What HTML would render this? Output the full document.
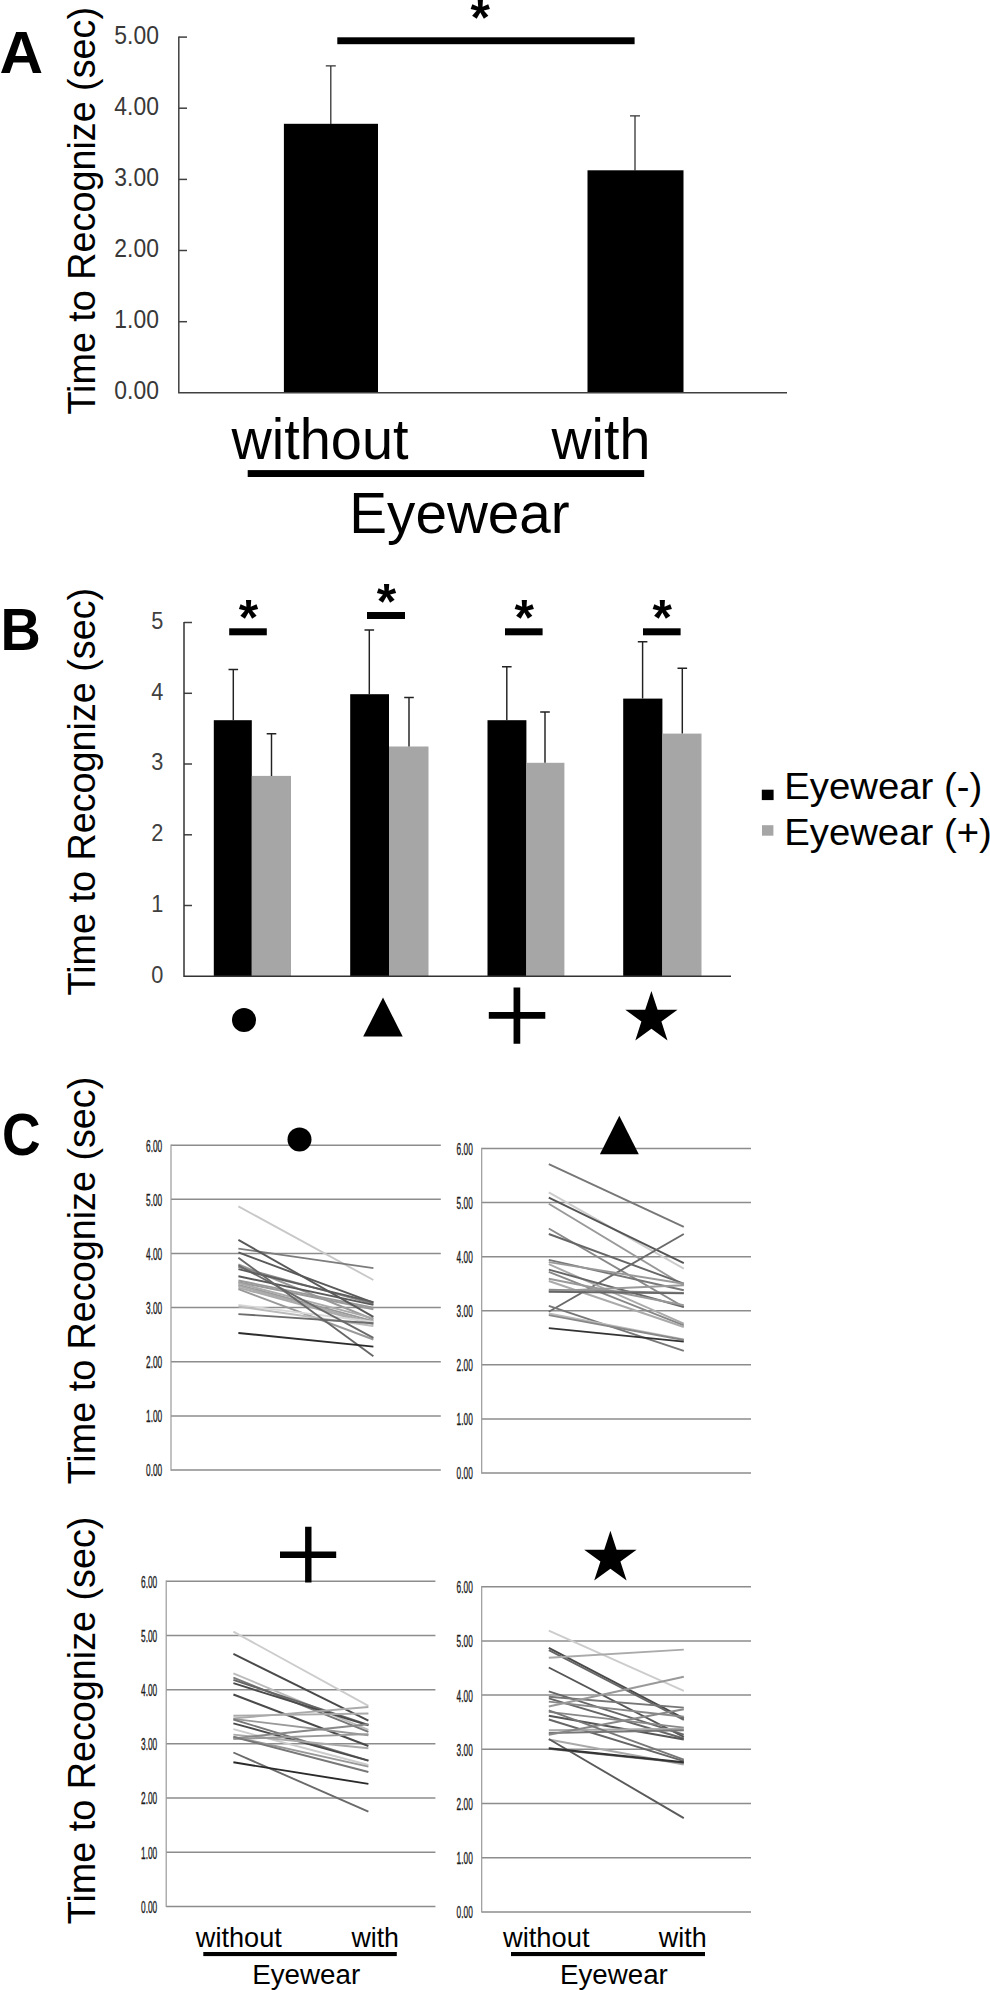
<!DOCTYPE html>
<html lang="en"><head><meta charset="utf-8"><title>Time to Recognize - Eyewear figure</title>
<style>
html,body{margin:0;padding:0;background:#fff;}
body{width:990px;height:1990px;overflow:hidden;}
svg{display:block;font-family:"Liberation Sans", Arial, sans-serif;}
</style></head><body>
<svg width="990" height="1990" viewBox="0 0 990 1990">
<rect width="990" height="1990" fill="#fff"/>
<g id="panelA">
<text x="-0.4" y="73.0" font-size="58.8" textLength="43.6" lengthAdjust="spacingAndGlyphs" font-weight="bold" fill="#000">A</text>
<text transform="translate(95.2,414.6) rotate(-90)" font-size="38.3" textLength="407.6" lengthAdjust="spacingAndGlyphs" fill="#000">Time to Recognize (sec)</text>
<text x="114.3" y="399.2" font-size="26.6" textLength="44.6" lengthAdjust="spacingAndGlyphs" fill="#383838">0.00</text>
<path d="M178.8 321.7H187" stroke="#404040" stroke-width="1.5"/>
<text x="114.3" y="328.1" font-size="26.6" textLength="44.6" lengthAdjust="spacingAndGlyphs" fill="#383838">1.00</text>
<path d="M178.8 250.5H187" stroke="#404040" stroke-width="1.5"/>
<text x="114.3" y="256.9" font-size="26.6" textLength="44.6" lengthAdjust="spacingAndGlyphs" fill="#383838">2.00</text>
<path d="M178.8 179.4H187" stroke="#404040" stroke-width="1.5"/>
<text x="114.3" y="185.8" font-size="26.6" textLength="44.6" lengthAdjust="spacingAndGlyphs" fill="#383838">3.00</text>
<path d="M178.8 108.2H187" stroke="#404040" stroke-width="1.5"/>
<text x="114.3" y="114.6" font-size="26.6" textLength="44.6" lengthAdjust="spacingAndGlyphs" fill="#383838">4.00</text>
<path d="M178.8 37.1H187" stroke="#404040" stroke-width="1.5"/>
<text x="114.3" y="43.5" font-size="26.6" textLength="44.6" lengthAdjust="spacingAndGlyphs" fill="#383838">5.00</text>
<rect x="283.9" y="123.8" width="94.1" height="269.0" fill="#000"/>
<rect x="587.5" y="170.3" width="96" height="222.5" fill="#000"/>
<path d="M178.8 36.4V392.8H787" fill="none" stroke="#404040" stroke-width="1.5"/>
<path d="M330.8 124V65.8M325.8 65.8H335.8" stroke="#333" stroke-width="1.3" fill="none"/>
<path d="M635 171V115.8M630 115.8H640" stroke="#333" stroke-width="1.3" fill="none"/>
<rect x="337.3" y="37.3" width="297.3" height="6.9" fill="#000"/>
<text x="480.2" y="35.4" font-size="50" font-weight="bold" text-anchor="middle" fill="#000">*</text>
<text x="231.5" y="459" font-size="57" textLength="177" lengthAdjust="spacingAndGlyphs" fill="#000">without</text>
<text x="551.5" y="459" font-size="57" textLength="98.8" lengthAdjust="spacingAndGlyphs" fill="#000">with</text>
<rect x="247.7" y="470.1" width="396.5" height="6.9" fill="#000"/>
<text x="349.3" y="533" font-size="58" textLength="220.4" lengthAdjust="spacingAndGlyphs" fill="#000">Eyewear</text>
</g>
<g id="panelB">
<text x="0.6" y="649.7" font-size="59.2" textLength="40.3" lengthAdjust="spacingAndGlyphs" font-weight="bold" fill="#000">B</text>
<text transform="translate(95.2,995.5) rotate(-90)" font-size="38.3" textLength="407.6" lengthAdjust="spacingAndGlyphs" fill="#000">Time to Recognize (sec)</text>
<text x="151.2" y="982.7" font-size="23.6" textLength="12.1" lengthAdjust="spacingAndGlyphs" fill="#404040">0</text>
<path d="M184.0 905.5H192" stroke="#404040" stroke-width="1.5"/>
<text x="151.2" y="911.9" font-size="23.6" textLength="12.1" lengthAdjust="spacingAndGlyphs" fill="#404040">1</text>
<path d="M184.0 834.8H192" stroke="#404040" stroke-width="1.5"/>
<text x="151.2" y="841.2" font-size="23.6" textLength="12.1" lengthAdjust="spacingAndGlyphs" fill="#404040">2</text>
<path d="M184.0 764.0H192" stroke="#404040" stroke-width="1.5"/>
<text x="151.2" y="770.4" font-size="23.6" textLength="12.1" lengthAdjust="spacingAndGlyphs" fill="#404040">3</text>
<path d="M184.0 693.3H192" stroke="#404040" stroke-width="1.5"/>
<text x="151.2" y="699.7" font-size="23.6" textLength="12.1" lengthAdjust="spacingAndGlyphs" fill="#404040">4</text>
<path d="M184.0 622.5H192" stroke="#404040" stroke-width="1.5"/>
<text x="151.2" y="628.9" font-size="23.6" textLength="12.1" lengthAdjust="spacingAndGlyphs" fill="#404040">5</text>
<rect x="213.8" y="720.2" width="38.0" height="256.1" fill="#000"/>
<rect x="251.8" y="775.9" width="39.2" height="200.4" fill="#a6a6a6"/>
<path d="M233.3 720.2V669.5M228.5 669.5H238.10000000000002M271.5 775.9V733.7M266.7 733.7H276.3" stroke="#222" stroke-width="1.45" fill="none"/>
<rect x="229.2" y="628.3" width="37.6" height="7" fill="#000"/>
<text x="248.5" y="635.1" font-size="50" font-weight="bold" text-anchor="middle" fill="#000">*</text>
<rect x="350.2" y="694.2" width="38.8" height="282.1" fill="#000"/>
<rect x="389.0" y="746.5" width="39.5" height="229.8" fill="#a6a6a6"/>
<path d="M369.3 694.2V630.0M364.5 630.0H374.1M409.0 746.5V697.5M404.2 697.5H413.8" stroke="#222" stroke-width="1.45" fill="none"/>
<rect x="367.0" y="612.0" width="38.0" height="7" fill="#000"/>
<text x="386.5" y="618.8" font-size="50" font-weight="bold" text-anchor="middle" fill="#000">*</text>
<rect x="487.5" y="720.2" width="38.9" height="256.1" fill="#000"/>
<rect x="526.4" y="762.8" width="38.0" height="213.5" fill="#a6a6a6"/>
<path d="M506.8 720.2V666.7M502.0 666.7H511.6M545.0 762.8V712.0M540.2 712.0H549.8" stroke="#222" stroke-width="1.45" fill="none"/>
<rect x="505.0" y="628.3" width="37.6" height="7" fill="#000"/>
<text x="524.3" y="635.1" font-size="50" font-weight="bold" text-anchor="middle" fill="#000">*</text>
<rect x="623.2" y="698.6" width="39.2" height="277.7" fill="#000"/>
<rect x="662.4" y="733.6" width="39.1" height="242.7" fill="#a6a6a6"/>
<path d="M642.6 698.6V641.7M637.8000000000001 641.7H647.4M682.3 733.6V668.2M677.5 668.2H687.0999999999999" stroke="#222" stroke-width="1.45" fill="none"/>
<rect x="643.0" y="628.3" width="37.6" height="7" fill="#000"/>
<text x="662.3" y="635.1" font-size="50" font-weight="bold" text-anchor="middle" fill="#000">*</text>
<path d="M184.0 621.9V976.3H731" fill="none" stroke="#333" stroke-width="1.5"/>
<circle cx="244" cy="1020" r="12" fill="#000"/>
<path d="M383 997.5L402.7 1036.5H363.2Z" fill="#000"/>
<path d="M488.8 1015.3H545.3M516.9 987.5V1043.7" stroke="#000" stroke-width="6.7" fill="none"/>
<path d="M651.4 990.9L657.6 1009.8L677.5 1009.8L661.4 1021.5L667.5 1040.5L651.4 1028.8L635.3 1040.5L641.4 1021.5L625.3 1009.8L645.2 1009.8Z" fill="#000"/>
<rect x="761.8" y="789.7" width="11.8" height="10.4" fill="#000"/>
<rect x="762" y="825.2" width="11.4" height="10.5" fill="#a6a6a6"/>
<text x="784.2" y="799.2" font-size="37.8" textLength="198" lengthAdjust="spacingAndGlyphs" fill="#000">Eyewear (-)</text>
<text x="784.2" y="844.6" font-size="37.8" textLength="207.6" lengthAdjust="spacingAndGlyphs" fill="#000">Eyewear (+)</text>
</g>
<g id="panelC">
<text x="1.9" y="1155.1" font-size="59" textLength="38.6" lengthAdjust="spacingAndGlyphs" font-weight="bold" fill="#000">C</text>
<text transform="translate(95.4,1484.3) rotate(-90)" font-size="38.3" textLength="407.6" lengthAdjust="spacingAndGlyphs" fill="#000">Time to Recognize (sec)</text>
<text transform="translate(95.4,1924.2) rotate(-90)" font-size="38.3" textLength="407.6" lengthAdjust="spacingAndGlyphs" fill="#000">Time to Recognize (sec)</text>
<path d="M171.0 1470.0H440.8" stroke="#8c8c8c" stroke-width="1.5"/>
<text x="146" y="1476.4" font-size="16.2" textLength="16.2" lengthAdjust="spacingAndGlyphs" fill="#1c1c1c" stroke="#1c1c1c" stroke-width="0.35">0.00</text>
<path d="M171.0 1415.9H440.8" stroke="#8c8c8c" stroke-width="1.5"/>
<text x="146" y="1422.3" font-size="16.2" textLength="16.2" lengthAdjust="spacingAndGlyphs" fill="#1c1c1c" stroke="#1c1c1c" stroke-width="0.35">1.00</text>
<path d="M171.0 1361.7H440.8" stroke="#8c8c8c" stroke-width="1.5"/>
<text x="146" y="1368.1" font-size="16.2" textLength="16.2" lengthAdjust="spacingAndGlyphs" fill="#1c1c1c" stroke="#1c1c1c" stroke-width="0.35">2.00</text>
<path d="M171.0 1307.6H440.8" stroke="#8c8c8c" stroke-width="1.5"/>
<text x="146" y="1314.0" font-size="16.2" textLength="16.2" lengthAdjust="spacingAndGlyphs" fill="#1c1c1c" stroke="#1c1c1c" stroke-width="0.35">3.00</text>
<path d="M171.0 1253.5H440.8" stroke="#8c8c8c" stroke-width="1.5"/>
<text x="146" y="1259.9" font-size="16.2" textLength="16.2" lengthAdjust="spacingAndGlyphs" fill="#1c1c1c" stroke="#1c1c1c" stroke-width="0.35">4.00</text>
<path d="M171.0 1199.3H440.8" stroke="#8c8c8c" stroke-width="1.5"/>
<text x="146" y="1205.7" font-size="16.2" textLength="16.2" lengthAdjust="spacingAndGlyphs" fill="#1c1c1c" stroke="#1c1c1c" stroke-width="0.35">5.00</text>
<path d="M171.0 1145.2H440.8" stroke="#8c8c8c" stroke-width="1.5"/>
<text x="146" y="1151.6" font-size="16.2" textLength="16.2" lengthAdjust="spacingAndGlyphs" fill="#1c1c1c" stroke="#1c1c1c" stroke-width="0.35">6.00</text>
<path d="M171.0 1144.5V1470.7" stroke="#9a9a9a" stroke-width="1.2"/>
<path d="M238.4 1206.4L373.4 1280.0" stroke="#c8c8c8" stroke-width="1.9"/>
<path d="M238.4 1248.6L373.4 1268.1" stroke="#7c7c7c" stroke-width="1.9"/>
<path d="M238.4 1264.3L373.4 1319.5" stroke="#999" stroke-width="1.9"/>
<path d="M238.4 1267.0L373.4 1303.8" stroke="#888" stroke-width="1.9"/>
<path d="M238.4 1280.5L373.4 1307.6" stroke="#999" stroke-width="1.9"/>
<path d="M238.4 1282.2L373.4 1309.2" stroke="#999" stroke-width="1.9"/>
<path d="M238.4 1283.2L373.4 1318.4" stroke="#aaa" stroke-width="1.9"/>
<path d="M238.4 1284.9L373.4 1321.1" stroke="#999" stroke-width="1.9"/>
<path d="M238.4 1285.9L373.4 1322.8" stroke="#aaa" stroke-width="1.9"/>
<path d="M238.4 1287.6L373.4 1324.4" stroke="#aaa" stroke-width="1.9"/>
<path d="M238.4 1289.2L373.4 1339.5" stroke="#999" stroke-width="1.9"/>
<path d="M238.4 1304.9L373.4 1321.7" stroke="#d8d8d8" stroke-width="1.9"/>
<path d="M238.4 1306.5L373.4 1326.0" stroke="#bbb" stroke-width="1.9"/>
<path d="M238.4 1314.1L373.4 1323.3" stroke="#6c6c6c" stroke-width="1.9"/>
<path d="M238.4 1265.4L373.4 1337.9" stroke="#6a6a6a" stroke-width="1.9"/>
<path d="M238.4 1252.4L373.4 1302.7" stroke="#595959" stroke-width="1.9"/>
<path d="M238.4 1269.2L373.4 1302.2" stroke="#5c5c5c" stroke-width="1.9"/>
<path d="M238.4 1276.2L373.4 1304.9" stroke="#5a5a5a" stroke-width="1.9"/>
<path d="M238.4 1239.9L373.4 1316.8" stroke="#585858" stroke-width="1.9"/>
<path d="M238.4 1257.8L373.4 1356.3" stroke="#666" stroke-width="1.9"/>
<path d="M238.4 1333.0L373.4 1346.6" stroke="#2c2c2c" stroke-width="1.9"/>
<path d="M481.7 1473.0H751.0" stroke="#8c8c8c" stroke-width="1.5"/>
<text x="456.6" y="1479.4" font-size="16.2" textLength="16.2" lengthAdjust="spacingAndGlyphs" fill="#1c1c1c" stroke="#1c1c1c" stroke-width="0.35">0.00</text>
<path d="M481.7 1418.9H751.0" stroke="#8c8c8c" stroke-width="1.5"/>
<text x="456.6" y="1425.3" font-size="16.2" textLength="16.2" lengthAdjust="spacingAndGlyphs" fill="#1c1c1c" stroke="#1c1c1c" stroke-width="0.35">1.00</text>
<path d="M481.7 1364.8H751.0" stroke="#8c8c8c" stroke-width="1.5"/>
<text x="456.6" y="1371.2" font-size="16.2" textLength="16.2" lengthAdjust="spacingAndGlyphs" fill="#1c1c1c" stroke="#1c1c1c" stroke-width="0.35">2.00</text>
<path d="M481.7 1310.8H751.0" stroke="#8c8c8c" stroke-width="1.5"/>
<text x="456.6" y="1317.2" font-size="16.2" textLength="16.2" lengthAdjust="spacingAndGlyphs" fill="#1c1c1c" stroke="#1c1c1c" stroke-width="0.35">3.00</text>
<path d="M481.7 1256.7H751.0" stroke="#8c8c8c" stroke-width="1.5"/>
<text x="456.6" y="1263.1" font-size="16.2" textLength="16.2" lengthAdjust="spacingAndGlyphs" fill="#1c1c1c" stroke="#1c1c1c" stroke-width="0.35">4.00</text>
<path d="M481.7 1202.6H751.0" stroke="#8c8c8c" stroke-width="1.5"/>
<text x="456.6" y="1209.0" font-size="16.2" textLength="16.2" lengthAdjust="spacingAndGlyphs" fill="#1c1c1c" stroke="#1c1c1c" stroke-width="0.35">5.00</text>
<path d="M481.7 1148.5H751.0" stroke="#8c8c8c" stroke-width="1.5"/>
<text x="456.6" y="1154.9" font-size="16.2" textLength="16.2" lengthAdjust="spacingAndGlyphs" fill="#1c1c1c" stroke="#1c1c1c" stroke-width="0.35">6.00</text>
<path d="M481.7 1147.8V1473.7" stroke="#9a9a9a" stroke-width="1.2"/>
<path d="M548.8 1164.2L683.8 1226.9" stroke="#777" stroke-width="1.9"/>
<path d="M548.8 1192.3L683.8 1268.6" stroke="#ccc" stroke-width="1.9"/>
<path d="M548.8 1197.7L683.8 1263.2" stroke="#555" stroke-width="1.9"/>
<path d="M548.8 1203.7L683.8 1285.3" stroke="#999" stroke-width="1.9"/>
<path d="M548.8 1228.5L683.8 1307.0" stroke="#888" stroke-width="1.9"/>
<path d="M548.8 1234.0L683.8 1283.7" stroke="#666" stroke-width="1.9"/>
<path d="M548.8 1311.8L683.8 1234.0" stroke="#6a6a6a" stroke-width="1.9"/>
<path d="M548.8 1259.9L683.8 1290.2" stroke="#777" stroke-width="1.9"/>
<path d="M548.8 1262.1L683.8 1283.7" stroke="#999" stroke-width="1.9"/>
<path d="M548.8 1264.2L683.8 1323.7" stroke="#aaa" stroke-width="1.9"/>
<path d="M548.8 1269.6L683.8 1307.0" stroke="#666" stroke-width="1.9"/>
<path d="M548.8 1271.8L683.8 1325.4" stroke="#888" stroke-width="1.9"/>
<path d="M548.8 1278.8L683.8 1305.3" stroke="#999" stroke-width="1.9"/>
<path d="M548.8 1281.0L683.8 1327.0" stroke="#aaa" stroke-width="1.9"/>
<path d="M548.8 1289.7L683.8 1292.9" stroke="#888" stroke-width="1.9"/>
<path d="M548.8 1291.3L683.8 1285.3" stroke="#999" stroke-width="1.9"/>
<path d="M548.8 1291.8L683.8 1293.4" stroke="#666" stroke-width="1.9"/>
<path d="M548.8 1305.9L683.8 1350.8" stroke="#777" stroke-width="1.9"/>
<path d="M548.8 1313.5L683.8 1339.4" stroke="#bbb" stroke-width="1.9"/>
<path d="M548.8 1315.1L683.8 1340.0" stroke="#888" stroke-width="1.9"/>
<path d="M548.8 1328.1L683.8 1341.6" stroke="#333" stroke-width="1.9"/>
<path d="M166.2 1906.4H435.4" stroke="#8c8c8c" stroke-width="1.5"/>
<text x="141.0" y="1912.8" font-size="16.2" textLength="16.2" lengthAdjust="spacingAndGlyphs" fill="#1c1c1c" stroke="#1c1c1c" stroke-width="0.35">0.00</text>
<path d="M166.2 1852.2H435.4" stroke="#8c8c8c" stroke-width="1.5"/>
<text x="141.0" y="1858.6" font-size="16.2" textLength="16.2" lengthAdjust="spacingAndGlyphs" fill="#1c1c1c" stroke="#1c1c1c" stroke-width="0.35">1.00</text>
<path d="M166.2 1798.0H435.4" stroke="#8c8c8c" stroke-width="1.5"/>
<text x="141.0" y="1804.4" font-size="16.2" textLength="16.2" lengthAdjust="spacingAndGlyphs" fill="#1c1c1c" stroke="#1c1c1c" stroke-width="0.35">2.00</text>
<path d="M166.2 1743.8H435.4" stroke="#8c8c8c" stroke-width="1.5"/>
<text x="141.0" y="1750.2" font-size="16.2" textLength="16.2" lengthAdjust="spacingAndGlyphs" fill="#1c1c1c" stroke="#1c1c1c" stroke-width="0.35">3.00</text>
<path d="M166.2 1689.7H435.4" stroke="#8c8c8c" stroke-width="1.5"/>
<text x="141.0" y="1696.1" font-size="16.2" textLength="16.2" lengthAdjust="spacingAndGlyphs" fill="#1c1c1c" stroke="#1c1c1c" stroke-width="0.35">4.00</text>
<path d="M166.2 1635.5H435.4" stroke="#8c8c8c" stroke-width="1.5"/>
<text x="141.0" y="1641.9" font-size="16.2" textLength="16.2" lengthAdjust="spacingAndGlyphs" fill="#1c1c1c" stroke="#1c1c1c" stroke-width="0.35">5.00</text>
<path d="M166.2 1581.3H435.4" stroke="#8c8c8c" stroke-width="1.5"/>
<text x="141.0" y="1587.7" font-size="16.2" textLength="16.2" lengthAdjust="spacingAndGlyphs" fill="#1c1c1c" stroke="#1c1c1c" stroke-width="0.35">6.00</text>
<path d="M166.2 1580.6V1907.1" stroke="#9a9a9a" stroke-width="1.2"/>
<path d="M233.4 1631.7L368.4 1705.9" stroke="#ccc" stroke-width="1.9"/>
<path d="M233.4 1653.9L368.4 1720.6" stroke="#4a4a4a" stroke-width="1.9"/>
<path d="M233.4 1673.4L368.4 1729.8" stroke="#bbb" stroke-width="1.9"/>
<path d="M233.4 1677.7L368.4 1731.9" stroke="#777" stroke-width="1.9"/>
<path d="M233.4 1679.9L368.4 1724.9" stroke="#666" stroke-width="1.9"/>
<path d="M233.4 1683.2L368.4 1725.4" stroke="#4a4a4a" stroke-width="1.9"/>
<path d="M233.4 1694.5L368.4 1746.0" stroke="#4a4a4a" stroke-width="1.9"/>
<path d="M233.4 1715.7L368.4 1713.5" stroke="#aaa" stroke-width="1.9"/>
<path d="M233.4 1718.4L368.4 1707.0" stroke="#aaa" stroke-width="1.9"/>
<path d="M233.4 1718.9L368.4 1735.2" stroke="#999" stroke-width="1.9"/>
<path d="M233.4 1719.5L368.4 1760.6" stroke="#777" stroke-width="1.9"/>
<path d="M233.4 1723.3L368.4 1760.6" stroke="#4a4a4a" stroke-width="1.9"/>
<path d="M233.4 1729.2L368.4 1765.0" stroke="#ccc" stroke-width="1.9"/>
<path d="M233.4 1734.6L368.4 1748.2" stroke="#aaa" stroke-width="1.9"/>
<path d="M233.4 1736.8L368.4 1766.6" stroke="#999" stroke-width="1.9"/>
<path d="M233.4 1738.4L368.4 1724.3" stroke="#888" stroke-width="1.9"/>
<path d="M233.4 1739.0L368.4 1734.1" stroke="#999" stroke-width="1.9"/>
<path d="M233.4 1736.8L368.4 1772.0" stroke="#777" stroke-width="1.9"/>
<path d="M233.4 1752.5L368.4 1811.6" stroke="#6a6a6a" stroke-width="1.9"/>
<path d="M233.4 1762.3L368.4 1783.9" stroke="#2a2a2a" stroke-width="1.9"/>
<path d="M481.7 1911.9H751.0" stroke="#8c8c8c" stroke-width="1.5"/>
<text x="456.6" y="1918.3" font-size="16.2" textLength="16.2" lengthAdjust="spacingAndGlyphs" fill="#1c1c1c" stroke="#1c1c1c" stroke-width="0.35">0.00</text>
<path d="M481.7 1857.7H751.0" stroke="#8c8c8c" stroke-width="1.5"/>
<text x="456.6" y="1864.1" font-size="16.2" textLength="16.2" lengthAdjust="spacingAndGlyphs" fill="#1c1c1c" stroke="#1c1c1c" stroke-width="0.35">1.00</text>
<path d="M481.7 1803.5H751.0" stroke="#8c8c8c" stroke-width="1.5"/>
<text x="456.6" y="1809.9" font-size="16.2" textLength="16.2" lengthAdjust="spacingAndGlyphs" fill="#1c1c1c" stroke="#1c1c1c" stroke-width="0.35">2.00</text>
<path d="M481.7 1749.3H751.0" stroke="#8c8c8c" stroke-width="1.5"/>
<text x="456.6" y="1755.7" font-size="16.2" textLength="16.2" lengthAdjust="spacingAndGlyphs" fill="#1c1c1c" stroke="#1c1c1c" stroke-width="0.35">3.00</text>
<path d="M481.7 1695.1H751.0" stroke="#8c8c8c" stroke-width="1.5"/>
<text x="456.6" y="1701.5" font-size="16.2" textLength="16.2" lengthAdjust="spacingAndGlyphs" fill="#1c1c1c" stroke="#1c1c1c" stroke-width="0.35">4.00</text>
<path d="M481.7 1640.9H751.0" stroke="#8c8c8c" stroke-width="1.5"/>
<text x="456.6" y="1647.3" font-size="16.2" textLength="16.2" lengthAdjust="spacingAndGlyphs" fill="#1c1c1c" stroke="#1c1c1c" stroke-width="0.35">5.00</text>
<path d="M481.7 1586.7H751.0" stroke="#8c8c8c" stroke-width="1.5"/>
<text x="456.6" y="1593.1" font-size="16.2" textLength="16.2" lengthAdjust="spacingAndGlyphs" fill="#1c1c1c" stroke="#1c1c1c" stroke-width="0.35">6.00</text>
<path d="M481.7 1586.0V1912.6" stroke="#9a9a9a" stroke-width="1.2"/>
<path d="M548.8 1630.6L683.8 1690.8" stroke="#ccc" stroke-width="1.9"/>
<path d="M548.8 1647.9L683.8 1718.4" stroke="#4a4a4a" stroke-width="1.9"/>
<path d="M548.8 1650.1L683.8 1720.0" stroke="#666" stroke-width="1.9"/>
<path d="M548.8 1657.7L683.8 1649.6" stroke="#aaa" stroke-width="1.9"/>
<path d="M548.8 1667.5L683.8 1736.8" stroke="#555" stroke-width="1.9"/>
<path d="M548.8 1691.3L683.8 1734.7" stroke="#666" stroke-width="1.9"/>
<path d="M548.8 1696.7L683.8 1707.6" stroke="#777" stroke-width="1.9"/>
<path d="M548.8 1698.4L683.8 1738.5" stroke="#666" stroke-width="1.9"/>
<path d="M548.8 1701.6L683.8 1716.8" stroke="#888" stroke-width="1.9"/>
<path d="M548.8 1706.5L683.8 1676.7" stroke="#999" stroke-width="1.9"/>
<path d="M548.8 1711.9L683.8 1727.6" stroke="#888" stroke-width="1.9"/>
<path d="M548.8 1715.7L683.8 1739.5" stroke="#555" stroke-width="1.9"/>
<path d="M548.8 1719.5L683.8 1761.2" stroke="#666" stroke-width="1.9"/>
<path d="M548.8 1730.3L683.8 1728.7" stroke="#aaa" stroke-width="1.9"/>
<path d="M548.8 1733.0L683.8 1730.3" stroke="#777" stroke-width="1.9"/>
<path d="M548.8 1734.7L683.8 1709.2" stroke="#888" stroke-width="1.9"/>
<path d="M548.8 1739.5L683.8 1764.5" stroke="#aaa" stroke-width="1.9"/>
<path d="M548.8 1739.0L683.8 1818.1" stroke="#5a5a5a" stroke-width="1.9"/>
<path d="M548.8 1710.3L683.8 1759.6" stroke="#777" stroke-width="1.9"/>
<path d="M548.8 1748.8L683.8 1762.9" stroke="#666" stroke-width="1.9"/>
<path d="M548.8 1748.2L683.8 1762.3" stroke="#333" stroke-width="1.9"/>
<circle cx="299.5" cy="1139.5" r="12" fill="#000"/>
<path d="M619.3 1115.7L638.8 1154.3H599.9Z" fill="#000"/>
<path d="M280 1554.7H336.2M308.3 1526.7V1582.4" stroke="#000" stroke-width="6.4" fill="none"/>
<path d="M610.4 1530.7L616.6 1549.8L636.6 1549.8L620.4 1561.6L626.6 1580.6L610.4 1568.8L594.2 1580.6L600.4 1561.6L584.2 1549.8L604.2 1549.8Z" fill="#000"/>
<text x="195.8" y="1946.8" font-size="27.2" textLength="86" lengthAdjust="spacingAndGlyphs" fill="#000">without</text>
<text x="351.4" y="1946.8" font-size="27.2" textLength="47.6" lengthAdjust="spacingAndGlyphs" fill="#000">with</text>
<rect x="203.3" y="1952" width="193.5" height="4.1" fill="#000"/>
<text x="252.2" y="1984.3" font-size="28.2" textLength="108" lengthAdjust="spacingAndGlyphs" fill="#000">Eyewear</text>
<text x="503.0" y="1946.8" font-size="27.2" textLength="86.5" lengthAdjust="spacingAndGlyphs" fill="#000">without</text>
<text x="658.8" y="1946.8" font-size="27.2" textLength="47.8" lengthAdjust="spacingAndGlyphs" fill="#000">with</text>
<rect x="511" y="1952" width="194.0" height="4.1" fill="#000"/>
<text x="560.0" y="1984.3" font-size="28.2" textLength="107.8" lengthAdjust="spacingAndGlyphs" fill="#000">Eyewear</text>
</g>
</svg>
</body></html>
